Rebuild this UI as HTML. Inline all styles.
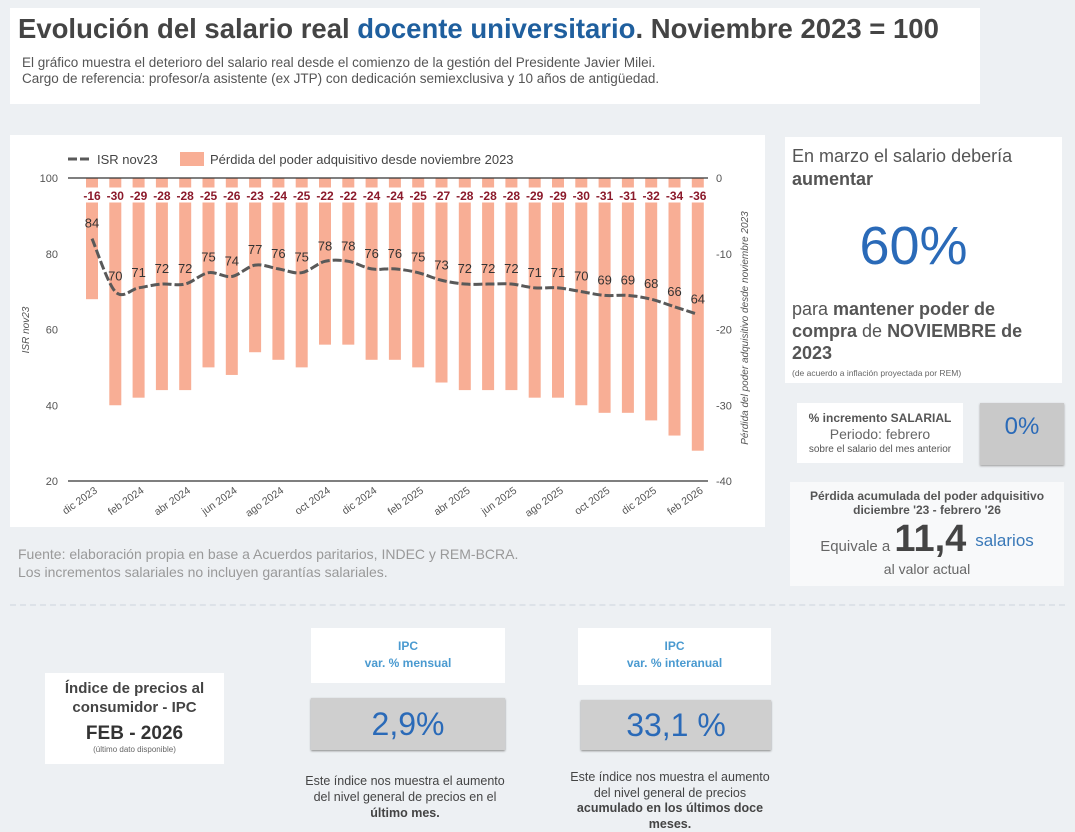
<!DOCTYPE html>
<html><head><meta charset="utf-8">
<style>
*{margin:0;padding:0;box-sizing:border-box}
body{width:1075px;height:832px;background:#edf0f3;font-family:"Liberation Sans",sans-serif;position:relative;overflow:hidden;color:#555}
.abs{position:absolute}
.box{position:absolute;background:#fff}
.c{text-align:center}
</style></head><body>
<div class="box" style="left:10px;top:8px;width:970px;height:96px"></div>
<div class="abs" style="left:18px;top:13px;font-size:27.5px;font-weight:bold;color:#444;white-space:nowrap">Evolución del salario real <span style="color:#1f5f9e">docente universitario</span>. Noviembre 2023 = 100</div>
<div class="abs" style="left:22px;top:55px;font-size:13.5px;color:#555;line-height:16px">El gráfico muestra el deterioro del salario real desde el comienzo de la gestión del Presidente Javier Milei.<br>Cargo de referencia: profesor/a asistente (ex JTP) con dedicación semiexclusiva y 10 años de antigüedad.</div>

<div class="box" style="left:10px;top:135px;width:755px;height:392px"></div>
<svg class="abs" style="left:0;top:0" width="1075" height="832" id="ch"></svg>

<div class="box" style="left:785px;top:137px;width:277px;height:246px"></div>
<div class="abs" style="left:792px;top:145px;font-size:18px;line-height:23px;color:#555">En marzo el salario debería<br><b>aumentar</b></div>
<div class="abs c" style="left:785px;top:215px;width:257px;font-size:54px;color:#2a6ab8">60%</div>
<div class="abs" style="left:792px;top:298px;font-size:18px;line-height:22px;color:#555">para <b>mantener poder de<br>compra</b> de <b>NOVIEMBRE de<br>2023</b></div>
<div class="abs" style="left:792px;top:368px;font-size:8.5px;color:#666">(de acuerdo a inflación proyectada por REM)</div>

<div class="box c" style="left:797px;top:403px;width:166px;height:60px;padding-top:7px;line-height:16px">
<div style="font-size:12px;font-weight:bold;color:#555">% incremento SALARIAL</div>
<div style="font-size:14px;color:#666">Periodo: febrero</div>
<div style="font-size:10px;color:#555">sobre el salario del mes anterior</div></div>
<div class="box c" style="left:980px;top:403px;width:84px;height:62px;background:#c9c9c9;font-size:24px;color:#2a6ab8;padding-top:10px;box-shadow:0 1px 2px #999">0%</div>

<div class="box c" style="left:790px;top:482px;width:274px;height:104px;background:#f8f9fa;padding-top:7px">
<div style="font-size:12px;font-weight:bold;color:#555;line-height:14px">Pérdida acumulada del poder adquisitivo<br>diciembre '23 - febrero '26</div>
<div style="font-size:15px;color:#666;margin-top:1px;white-space:nowrap">Equivale a <span style="font-size:38px;font-weight:bold;color:#444">11,4</span> <span style="color:#3a79b8;font-size:17px;position:relative;top:-5px">&nbsp;salarios</span></div>
<div style="font-size:14px;color:#666">al valor actual</div></div>

<div class="abs" style="left:18px;top:545px;font-size:14px;color:#999;line-height:18px">Fuente: elaboración propia en base a Acuerdos paritarios, INDEC y REM-BCRA.<br>Los incrementos salariales no incluyen garantías salariales.</div>
<div class="abs" style="left:10px;top:604px;width:1055px;border-top:2px dashed #dde2e8"></div>

<div class="box c" style="left:45px;top:673px;width:179px;height:91px;padding-top:6px">
<div style="font-size:15px;font-weight:bold;color:#444;line-height:19px">Índice de precios al<br>consumidor - IPC</div>
<div style="font-size:19px;font-weight:bold;color:#333;margin-top:6px">FEB - 2026</div>
<div style="font-size:8px;color:#666">(último dato disponible)</div></div>

<div class="box c" style="left:311px;top:628px;width:194px;height:55px;padding-top:10px;font-size:12px;font-weight:bold;color:#4a9ad0;line-height:17px">IPC<br>var. % mensual</div>
<div class="box c" style="left:311px;top:698px;width:194px;height:52px;background:#cfcfcf;font-size:32px;color:#2a6ab8;padding-top:8px;box-shadow:0 1px 2px #888">2,9%</div>
<div class="abs c" style="left:270px;top:773px;width:270px;font-size:12.5px;color:#444;line-height:16px">Este índice nos muestra el aumento<br>del nivel general de precios en el<br><b>último mes.</b></div>

<div class="box c" style="left:578px;top:628px;width:193px;height:57px;padding-top:10px;font-size:12px;font-weight:bold;color:#4a9ad0;line-height:17px">IPC<br>var. % interanual</div>
<div class="box c" style="left:581px;top:700px;width:190px;height:50px;background:#cfcfcf;font-size:32px;color:#2a6ab8;padding-top:7px;box-shadow:0 1px 2px #888">33,1 %</div>
<div class="abs c" style="left:540px;top:770px;width:260px;font-size:12.5px;color:#444;line-height:15.5px">Este índice nos muestra el aumento<br>del nivel general de precios<br><b>acumulado en los últimos doce<br>meses.</b></div>

<script>
var isr=[84,70,71,72,72,75,74,77,76,75,78,78,76,76,75,73,72,72,72,71,71,70,69,69,68,66,64];
var loss=[-16,-30,-29,-28,-28,-25,-26,-23,-24,-25,-22,-22,-24,-24,-25,-27,-28,-28,-28,-29,-29,-30,-31,-31,-32,-34,-36];
var months=["dic 2023","feb 2024","abr 2024","jun 2024","ago 2024","oct 2024","dic 2024","feb 2025","abr 2025","jun 2025","ago 2025","oct 2025","dic 2025","feb 2026"];
var s='';
function X(i){return 92+i*23.3}
function YL(v){return 178+(100-v)*3.7875}
[100,80,60,40,20].forEach(function(v){s+='<text x="58" y="'+(YL(v)+4)+'" font-size="11" fill="#555" text-anchor="end">'+v+'</text>';});
[0,-10,-20,-30,-40].forEach(function(v){s+='<text x="716" y="'+(178-v*7.575+4)+'" font-size="11" fill="#555">'+v+'</text>';});
for(var i=0;i<27;i++){var x=X(i);s+='<rect x="'+(x-6)+'" y="178" width="12" height="'+(-loss[i]*7.575)+'" fill="#f8ae95"/>';}
s+='<rect x="70" y="187.5" width="636" height="15" fill="#fff"/>';
s+='<line x1="68" y1="178" x2="708" y2="178" stroke="#333" stroke-width="1.2"/>';
s+='<line x1="68" y1="481" x2="708" y2="481" stroke="#333" stroke-width="1.2"/>';
for(var i=0;i<27;i++){s+='<text x="'+X(i)+'" y="200" font-size="12" font-weight="bold" fill="#8b1a2b" text-anchor="middle">'+loss[i]+'</text>';}
var pts=isr.map(function(v,i){return [X(i),YL(v)]});
var d='M'+pts[0][0]+','+pts[0][1];
for(var i=0;i<26;i++){var p0=pts[Math.max(0,i-1)],p1=pts[i],p2=pts[i+1],p3=pts[Math.min(26,i+2)];
d+=' C'+(p1[0]+(p2[0]-p0[0])/6)+','+(p1[1]+(p2[1]-p0[1])/6)+' '+(p2[0]-(p3[0]-p1[0])/6)+','+(p2[1]-(p3[1]-p1[1])/6)+' '+p2[0]+','+p2[1];}
s+='<path d="'+d+'" fill="none" stroke="#595959" stroke-width="3" stroke-dasharray="9,3"/>';
for(var i=0;i<27;i++){s+='<text x="'+X(i)+'" y="'+(YL(isr[i])-11)+'" font-size="13" fill="#333" text-anchor="middle">'+isr[i]+'</text>';}
for(var k=0;k<14;k++){var x=X(2*k)+6;s+='<text transform="translate('+x+',492) rotate(-35)" font-size="10.5" fill="#555" text-anchor="end">'+months[k]+'</text>';}
s+='<line x1="68" y1="159" x2="92" y2="159" stroke="#595959" stroke-width="3" stroke-dasharray="9,3"/>';
s+='<text x="97" y="164" font-size="13" fill="#444">ISR nov23</text>';
s+='<rect x="180" y="152" width="24" height="14" fill="#f8ae95"/>';
s+='<text x="210" y="164" font-size="13" fill="#444">Pérdida del poder adquisitivo desde noviembre 2023</text>';
s+='<text transform="translate(29,330) rotate(-90)" font-size="10" font-style="italic" fill="#555" text-anchor="middle">ISR nov23</text>';
s+='<text transform="translate(748,328) rotate(-90)" font-size="10" font-style="italic" fill="#555" text-anchor="middle">Pérdida del poder adquisitivo desde noviembre 2023</text>';
document.getElementById('ch').innerHTML=s;
</script>
</body></html>
